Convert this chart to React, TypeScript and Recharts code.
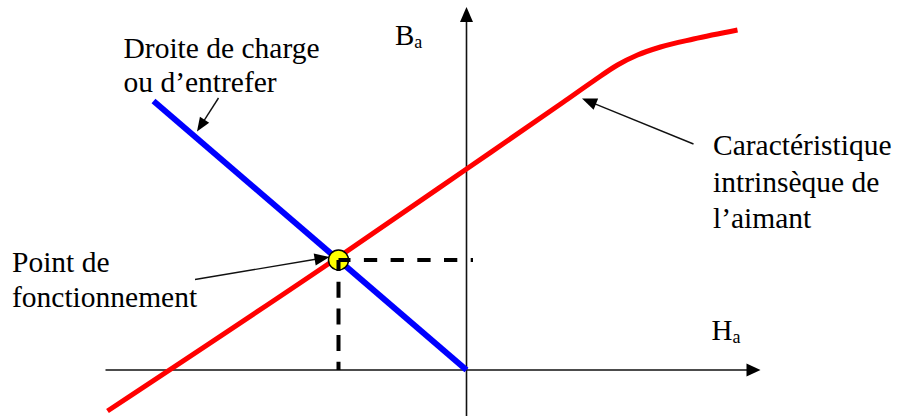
import { LineChart, Line, XAxis, YAxis, ReferenceLine, ReferenceDot } from "recharts";

const WIDTH = 898;
const HEIGHT = 416;

// schematic units: H horizontally, B vertically
const H_DOMAIN: [number, number] = [-46.65, 43.15];
const B_DOMAIN: [number, number] = [-4.6, 37];

// caractéristique intrinsèque de l'aimant
const magnetH = [-35.9, -12.8, 0, 9.7, 12.7, 15.1, 17.1, 19.4, 22.7, 27.1];
const magnetB = [-4.1, 11.3, 20.1, 26.8, 28.9, 30.5, 31.5, 32.3, 33.1, 34.0];

// droite de charge
const loadH = [-31.3, 0];
const loadB = [26.9, 0];

// point de fonctionnement + projections
const workH = -12.8;
const workB = 11.0;
const dashEndH = 0.65;

// axes (start, tip)
const hAxis = [
  { x: -36.1, y: 0 },
  { x: 29.4, y: 0 },
];
const bAxis = [
  { x: 0, y: -4.6 },
  { x: 0, y: 36.3 },
];

// annotation arrows (tail, tip)
const loadArrow = [
  { x: -24.8, y: 27.2 },
  { x: -26.95, y: 23.85 },
];
const magnetArrow = [
  { x: 22.7, y: 22.6 },
  { x: 11.55, y: 27.15 },
];
const workArrow = [
  { x: -27.15, y: 9.05 },
  { x: -13.7, y: 11.3 },
];

const loadLabel = ["Droite de charge", "ou d’entrefer"];
const magnetLabel = ["Caractéristique", "intrinsèque de", "l’aimant"];
const workLabel = ["Point de", "fonctionnement"];

const zip = (hs: number[], bs: number[]) => hs.map((h, i) => ({ h, b: bs[i] }));

const magnetData = zip(magnetH, magnetB);
const loadData = zip(loadH, loadB);
const dashH = [
  { x: workH, y: workB },
  { x: dashEndH, y: workB },
];
const dashV = [
  { x: workH, y: workB },
  { x: workH, y: 0 },
];

const FONT = "'Liberation Serif', 'Times New Roman', serif";

function arrowShape(head: number, half: number, width: number) {
  return (p: any) => {
    const x1 = Number(p.x1), y1 = Number(p.y1), x2 = Number(p.x2), y2 = Number(p.y2);
    const dx = x2 - x1;
    const dy = y2 - y1;
    const len = Math.hypot(dx, dy) || 1;
    const ux = dx / len;
    const uy = dy / len;
    const bx = x2 - ux * head;
    const by = y2 - uy * head;
    const pts = `${x2},${y2} ${bx - uy * half},${by + ux * half} ${bx + uy * half},${by - ux * half}`;
    return (
      <g>
        <line x1={x1} y1={y1} x2={bx + ux} y2={by + uy} stroke="#111" strokeWidth={width} />
        <polygon points={pts} fill="#000" />
      </g>
    );
  };
}

function dashShape(dash: string, offset: number) {
  return (p: any) => (
    <line
      x1={p.x1}
      y1={p.y1}
      x2={p.x2}
      y2={p.y2}
      stroke="#000"
      strokeWidth={4}
      strokeDasharray={dash}
      strokeDashoffset={offset}
    />
  );
}

function textShape(lines: string[], lineHeight: number) {
  return (p: any) => (
    <text x={p.cx} y={p.cy} style={{ fontFamily: FONT, fontSize: 29.5 }} fill="#000">
      {lines.map((l, i) => (
        <tspan key={i} x={p.cx} dy={i === 0 ? 0 : lineHeight}>
          {l}
        </tspan>
      ))}
    </text>
  );
}

function axisName(main: string, sub: string) {
  return (p: any) => (
    <text x={p.cx} y={p.cy} style={{ fontFamily: FONT, fontSize: 29 }} fill="#000">
      <tspan>{main}</tspan>
      <tspan style={{ fontSize: 18 }} dy={3}>
        {sub}
      </tspan>
    </text>
  );
}

export default function App() {
  return (
    <div style={{ position: "absolute", left: 0, top: 0, background: "#fff" }}>
      <LineChart width={WIDTH} height={HEIGHT} margin={{ top: 0, right: 0, bottom: 0, left: 0 }}>
        <XAxis dataKey="h" type="number" domain={H_DOMAIN} allowDataOverflow hide />
        <YAxis dataKey="b" type="number" domain={B_DOMAIN} allowDataOverflow hide width={0} />

        <ReferenceLine segment={hAxis} zIndex={300} shape={arrowShape(14, 6.5, 1.6)} />
        <ReferenceLine segment={bAxis} zIndex={300} shape={arrowShape(15, 6.5, 1.6)} />

        <Line
          data={magnetData}
          dataKey="b"
          type="monotone"
          stroke="#FF0000"
          strokeWidth={5}
          strokeLinecap="butt"
          dot={false}
          activeDot={false}
          isAnimationActive={false}
        />
        <Line
          data={loadData}
          dataKey="b"
          type="linear"
          stroke="#0000FF"
          strokeWidth={6}
          strokeLinecap="butt"
          dot={false}
          activeDot={false}
          isAnimationActive={false}
        />

        <ReferenceDot
          x={workH}
          y={workB}
          r={10}
          zIndex={700}
          fill="#FFFF00"
          stroke="#000"
          strokeWidth={1.5}
        />
        <ReferenceLine segment={dashH} zIndex={800} shape={dashShape("13.3 13.4", 1.3)} />
        <ReferenceLine segment={dashV} zIndex={800} shape={dashShape("16 10.7", 5)} />

        <ReferenceLine segment={loadArrow} zIndex={850} shape={arrowShape(14, 5.5, 1.4)} />
        <ReferenceLine segment={magnetArrow} zIndex={850} shape={arrowShape(15, 6, 1.4)} />
        <ReferenceLine segment={workArrow} zIndex={850} shape={arrowShape(15, 6, 1.4)} />

        <ReferenceDot x={-34.3} y={31.2} r={0} zIndex={900} shape={textShape(loadLabel, 34)} />
        <ReferenceDot x={24.65} y={21.5} r={0} zIndex={900} shape={textShape(magnetLabel, 36.5)} />
        <ReferenceDot x={-45.45} y={9.8} r={0} zIndex={900} shape={textShape(workLabel, 34.5)} />
        <ReferenceDot x={-7.15} y={32.5} r={0} zIndex={900} shape={axisName("B", "a")} />
        <ReferenceDot x={24.5} y={3.05} r={0} zIndex={900} shape={axisName("H", "a")} />
      </LineChart>
    </div>
  );
}
